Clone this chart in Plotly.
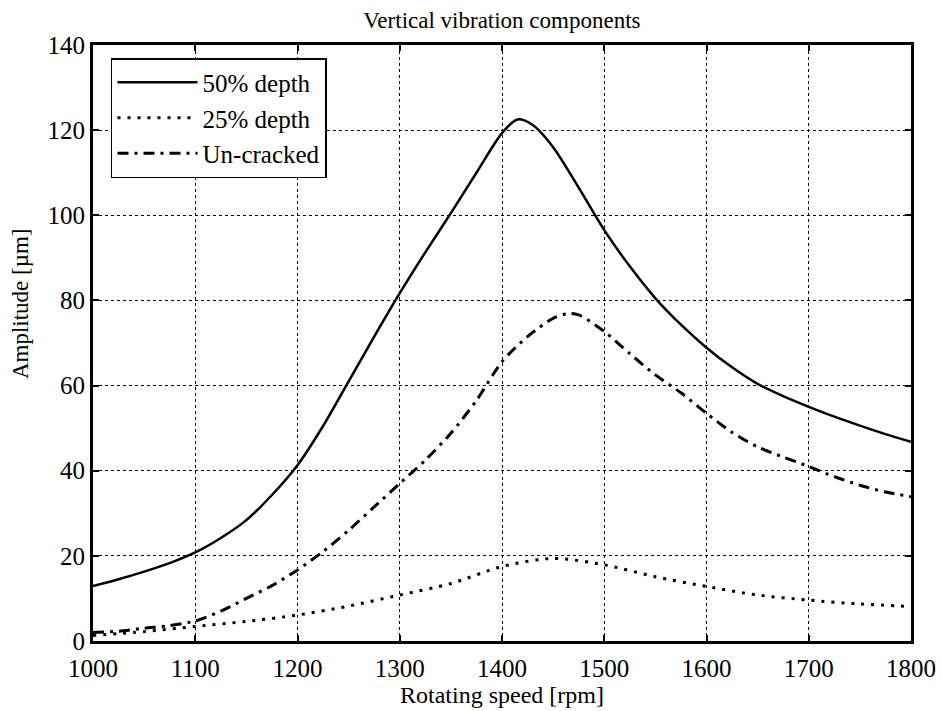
import plotly.graph_objects as go

speed_50 = [1000, 1025, 1050, 1075, 1100, 1125, 1150, 1175, 1200, 1225, 1250, 1275, 1300, 1325, 1350, 1375, 1400, 1415, 1430,
            1450, 1475, 1500, 1525, 1550, 1575, 1600, 1625, 1650, 1675, 1700, 1725, 1750, 1775, 1800]
amp_50 = [12.9, 14.5, 16.3, 18.3, 20.8, 24.2, 28.4, 34.3, 41.3, 50.5, 61.0, 71.5, 81.7, 91.3, 100.5, 110.0, 119.3, 122.5, 121.2,
          116.0, 106.5, 96.5, 88.0, 80.5, 74.3, 68.9, 64.3, 60.4, 57.5, 55.0, 52.7, 50.6, 48.6, 46.8]

speed_25 = [1000, 1050, 1100, 1150, 1200, 1250, 1300, 1350, 1400, 1450, 1500, 1550, 1600, 1650, 1700, 1750, 1800]
amp_25 = [1.3, 2.2, 3.4, 4.6, 6.1, 8.2, 10.8, 13.5, 17.5, 19.4, 17.9, 15.1, 12.8, 10.8, 9.6, 8.7, 8.1]

speed_uc = [1000, 1025, 1050, 1075, 1100, 1125, 1150, 1175, 1200, 1225, 1250, 1275, 1300, 1325, 1350, 1375, 1400, 1425,
            1450, 1465, 1475, 1500, 1525, 1550, 1575, 1600, 1625, 1650, 1675, 1700, 1725, 1750, 1775, 1800]
amp_uc = [2.0, 2.3, 3.0, 3.6, 4.7, 7.0, 10.0, 13.0, 16.7, 21.0, 26.0, 31.5, 37.0, 42.5, 48.8, 56.5, 65.6, 71.5,
          75.8, 76.9, 76.6, 72.7, 67.5, 62.5, 58.3, 53.5, 49.0, 45.6, 43.2, 41.0, 38.6, 36.6, 35.0, 33.9]

x_ticks = [1000, 1100, 1200, 1300, 1400, 1500, 1600, 1700, 1800]
y_ticks = [0, 20, 40, 60, 80, 100, 120, 140]

FONT = "'Liberation Serif', 'Times New Roman', Times, serif"

fig = go.Figure()
fig.add_trace(go.Scatter(x=speed_50, y=amp_50, mode="lines", name="50% depth",
                         line=dict(color="black", width=2.5, shape="spline", smoothing=0.8)))
fig.add_trace(go.Scatter(x=speed_25, y=amp_25, mode="lines", name="25% depth",
                         line=dict(color="black", width=3, dash="3px,7px", shape="spline", smoothing=0.8)))
fig.add_trace(go.Scatter(x=speed_uc, y=amp_uc, mode="lines", name="Un-cracked",
                         line=dict(color="black", width=3, dash="11px,6px,3px,6px", shape="spline", smoothing=0.8)))

axis_common = dict(
    showline=True, linecolor="black", linewidth=3, mirror="ticks",
    ticks="inside", ticklen=6, tickwidth=2, tickcolor="black",
    showgrid=True, gridcolor="black", gridwidth=1, griddash="dot",
    zeroline=False,
    tickfont=dict(family=FONT, size=25, color="black"),
)

fig.update_xaxes(range=[1000, 1800], tickvals=x_ticks, ticklabelstandoff=3,
                 title=dict(text="Rotating speed [rpm]", font=dict(family=FONT, size=24, color="black"), standoff=0),
                 **axis_common)
fig.update_yaxes(range=[0, 140], tickvals=y_ticks, **axis_common)

fig.add_annotation(text="Amplitude [µm]", xref="paper", yref="paper", x=-0.0892, y=0.5654,
                   xanchor="center", yanchor="middle", textangle=-90, showarrow=False,
                   font=dict(family=FONT, size=23, color="black"))

fig.update_layout(
    width=941, height=711,
    margin=dict(l=93, r=30, t=45, b=70, autoexpand=False),
    plot_bgcolor="white", paper_bgcolor="white",
    title=dict(text="Vertical vibration components", x=0.5334, xanchor="center", y=0.972, yanchor="middle",
               font=dict(family=FONT, size=23, color="black")),
    showlegend=True,
    legend=dict(x=0.022, y=0.978, xanchor="left", yanchor="top",
                bgcolor="white", bordercolor="black", borderwidth=1.5,
                font=dict(family=FONT, size=25, color="black"),
                itemwidth=80, tracegroupgap=0),
)

fig.write_html("out.html")
